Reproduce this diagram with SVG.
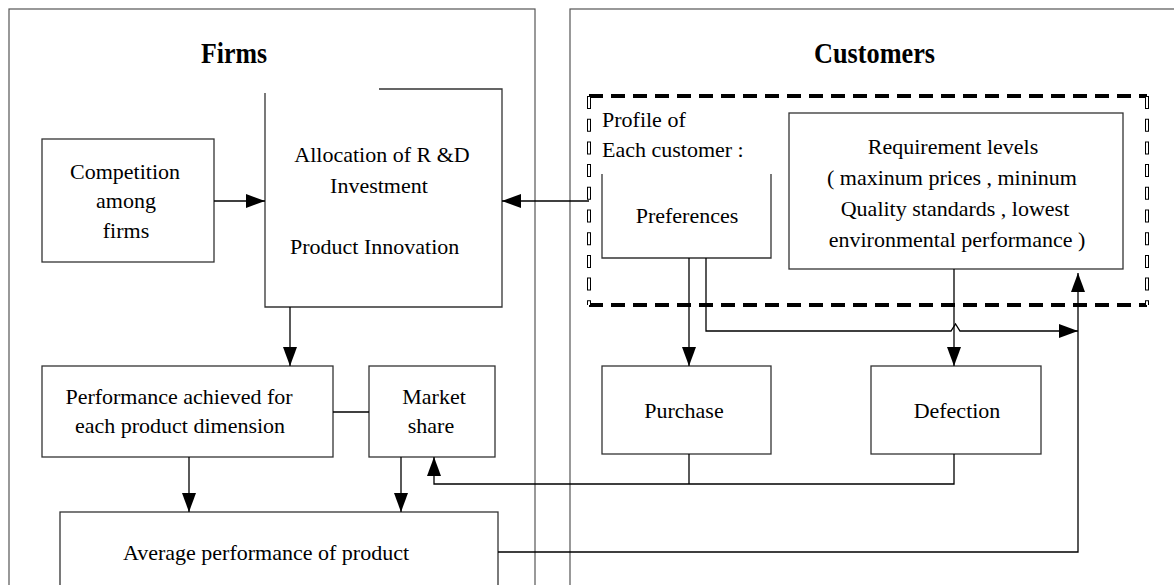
<svg xmlns="http://www.w3.org/2000/svg" width="1174" height="585" viewBox="0 0 1174 585">
<style>
text{font-family:"Liberation Serif","Times New Roman",serif;font-size:22px;fill:#000}
.t{font-weight:bold;font-size:30px}
.c{text-anchor:middle}
.panel{fill:none;stroke:#555;stroke-width:1.2}
.box{fill:#fff;stroke:#333;stroke-width:1.3}
.ln{fill:none;stroke:#333;stroke-width:1.3}
.con{fill:none;stroke:#000;stroke-width:1.3}
.arr{marker-end:url(#ah)}
</style>
<defs>
<marker id="ah" markerUnits="userSpaceOnUse" markerWidth="20" markerHeight="14" refX="19" refY="7" orient="auto">
<path d="M0,0 L19,7 L0,14 z" fill="#000"/>
</marker>
</defs>
<rect width="1174" height="585" fill="#fff"/>
<g id="panel-firms">
<rect class="panel" x="9" y="9" width="526" height="600"/>
<text class="t" x="201" y="63" textLength="66" lengthAdjust="spacingAndGlyphs">Firms</text>
</g>
<g id="panel-customers">
<rect class="panel" x="570" y="9" width="620" height="600"/>
<text class="t" x="814" y="63" textLength="121" lengthAdjust="spacingAndGlyphs">Customers</text>
</g>
<g id="profile">
<line x1="589" y1="96" x2="1147" y2="96" stroke="#000" stroke-width="4" stroke-dasharray="14 8"/>
<line x1="589" y1="305" x2="1147" y2="305" stroke="#000" stroke-width="4" stroke-dasharray="14 8"/>
<line x1="589" y1="96" x2="589" y2="305" stroke="#000" stroke-width="4" stroke-dasharray="13 9.7"/>
<line x1="589" y1="96" x2="589" y2="305" stroke="#fff" stroke-width="2" stroke-dasharray="11 11.7" stroke-dashoffset="-1"/>
<line x1="1147" y1="96" x2="1147" y2="305" stroke="#000" stroke-width="4" stroke-dasharray="13 9.7"/>
<line x1="1147" y1="96" x2="1147" y2="305" stroke="#fff" stroke-width="2" stroke-dasharray="11 11.7" stroke-dashoffset="-1"/>
<text x="602" y="127">Profile of</text>
<text x="602" y="157">Each customer :</text>
</g>
<g id="competition">
<rect class="box" x="42" y="139" width="172" height="123"/>
<text class="c" x="125" y="179">Competition</text>
<text class="c" x="126" y="208">among</text>
<text class="c" x="126" y="238">firms</text>
</g>
<g id="allocation">
<path class="ln" d="M265,93 V307 H502 V89 H379"/>
<text class="c" x="382" y="162">Allocation of R &amp;D</text>
<text class="c" x="379" y="193">Investment</text>
<text x="290" y="254">Product Innovation</text>
</g>
<g id="preferences">
<path class="ln" d="M602,174 V258 H771 V174"/>
<text class="c" x="687" y="223">Preferences</text>
</g>
<g id="requirement">
<rect class="box" x="789" y="113" width="334" height="156"/>
<text class="c" x="953" y="154">Requirement levels</text>
<text class="c" x="952" y="185">( maxinum prices ,  mininum</text>
<text class="c" x="955" y="216">Quality standards  , lowest</text>
<text class="c" x="957" y="247">environmental performance  )</text>
</g>
<g id="purchase">
<rect class="box" x="602" y="366" width="169" height="88"/>
<text class="c" x="684" y="418">Purchase</text>
</g>
<g id="defection">
<rect class="box" x="871" y="366" width="170" height="88"/>
<text class="c" x="957" y="418">Defection</text>
</g>
<g id="performance">
<rect class="box" x="42" y="366" width="291" height="91"/>
<text class="c" x="179" y="404">Performance achieved for</text>
<text class="c" x="180" y="433">each product dimension</text>
</g>
<g id="market-share">
<rect class="box" x="369" y="366" width="126" height="91"/>
<text class="c" x="434" y="404">Market</text>
<text class="c" x="431" y="433">share</text>
</g>
<g id="average">
<rect class="box" x="60" y="512" width="438" height="100"/>
<text class="c" x="266" y="560">Average performance of product</text>
</g>
<g id="connectors">
<path class="con arr" d="M214,201 H265"/>
<path class="con arr" d="M589,201 H502"/>
<path class="con arr" d="M290,307 V366"/>
<path class="con arr" d="M689,258 V366"/>
<path class="con arr" d="M706,258 V331 H951 L955.5,324 L960,331 H1078"/>
<path class="con arr" d="M954,269 V366"/>
<path class="con" d="M689,454 V484"/>
<path class="con arr" d="M954,454 V484 H434 V457"/>
<path class="con arr" d="M189,457 V512"/>
<path class="con arr" d="M401,457 V512"/>
<path class="con" d="M333,412 H369"/>
<path class="con arr" d="M498,552 H1078 V273"/>
</g>
</svg>
